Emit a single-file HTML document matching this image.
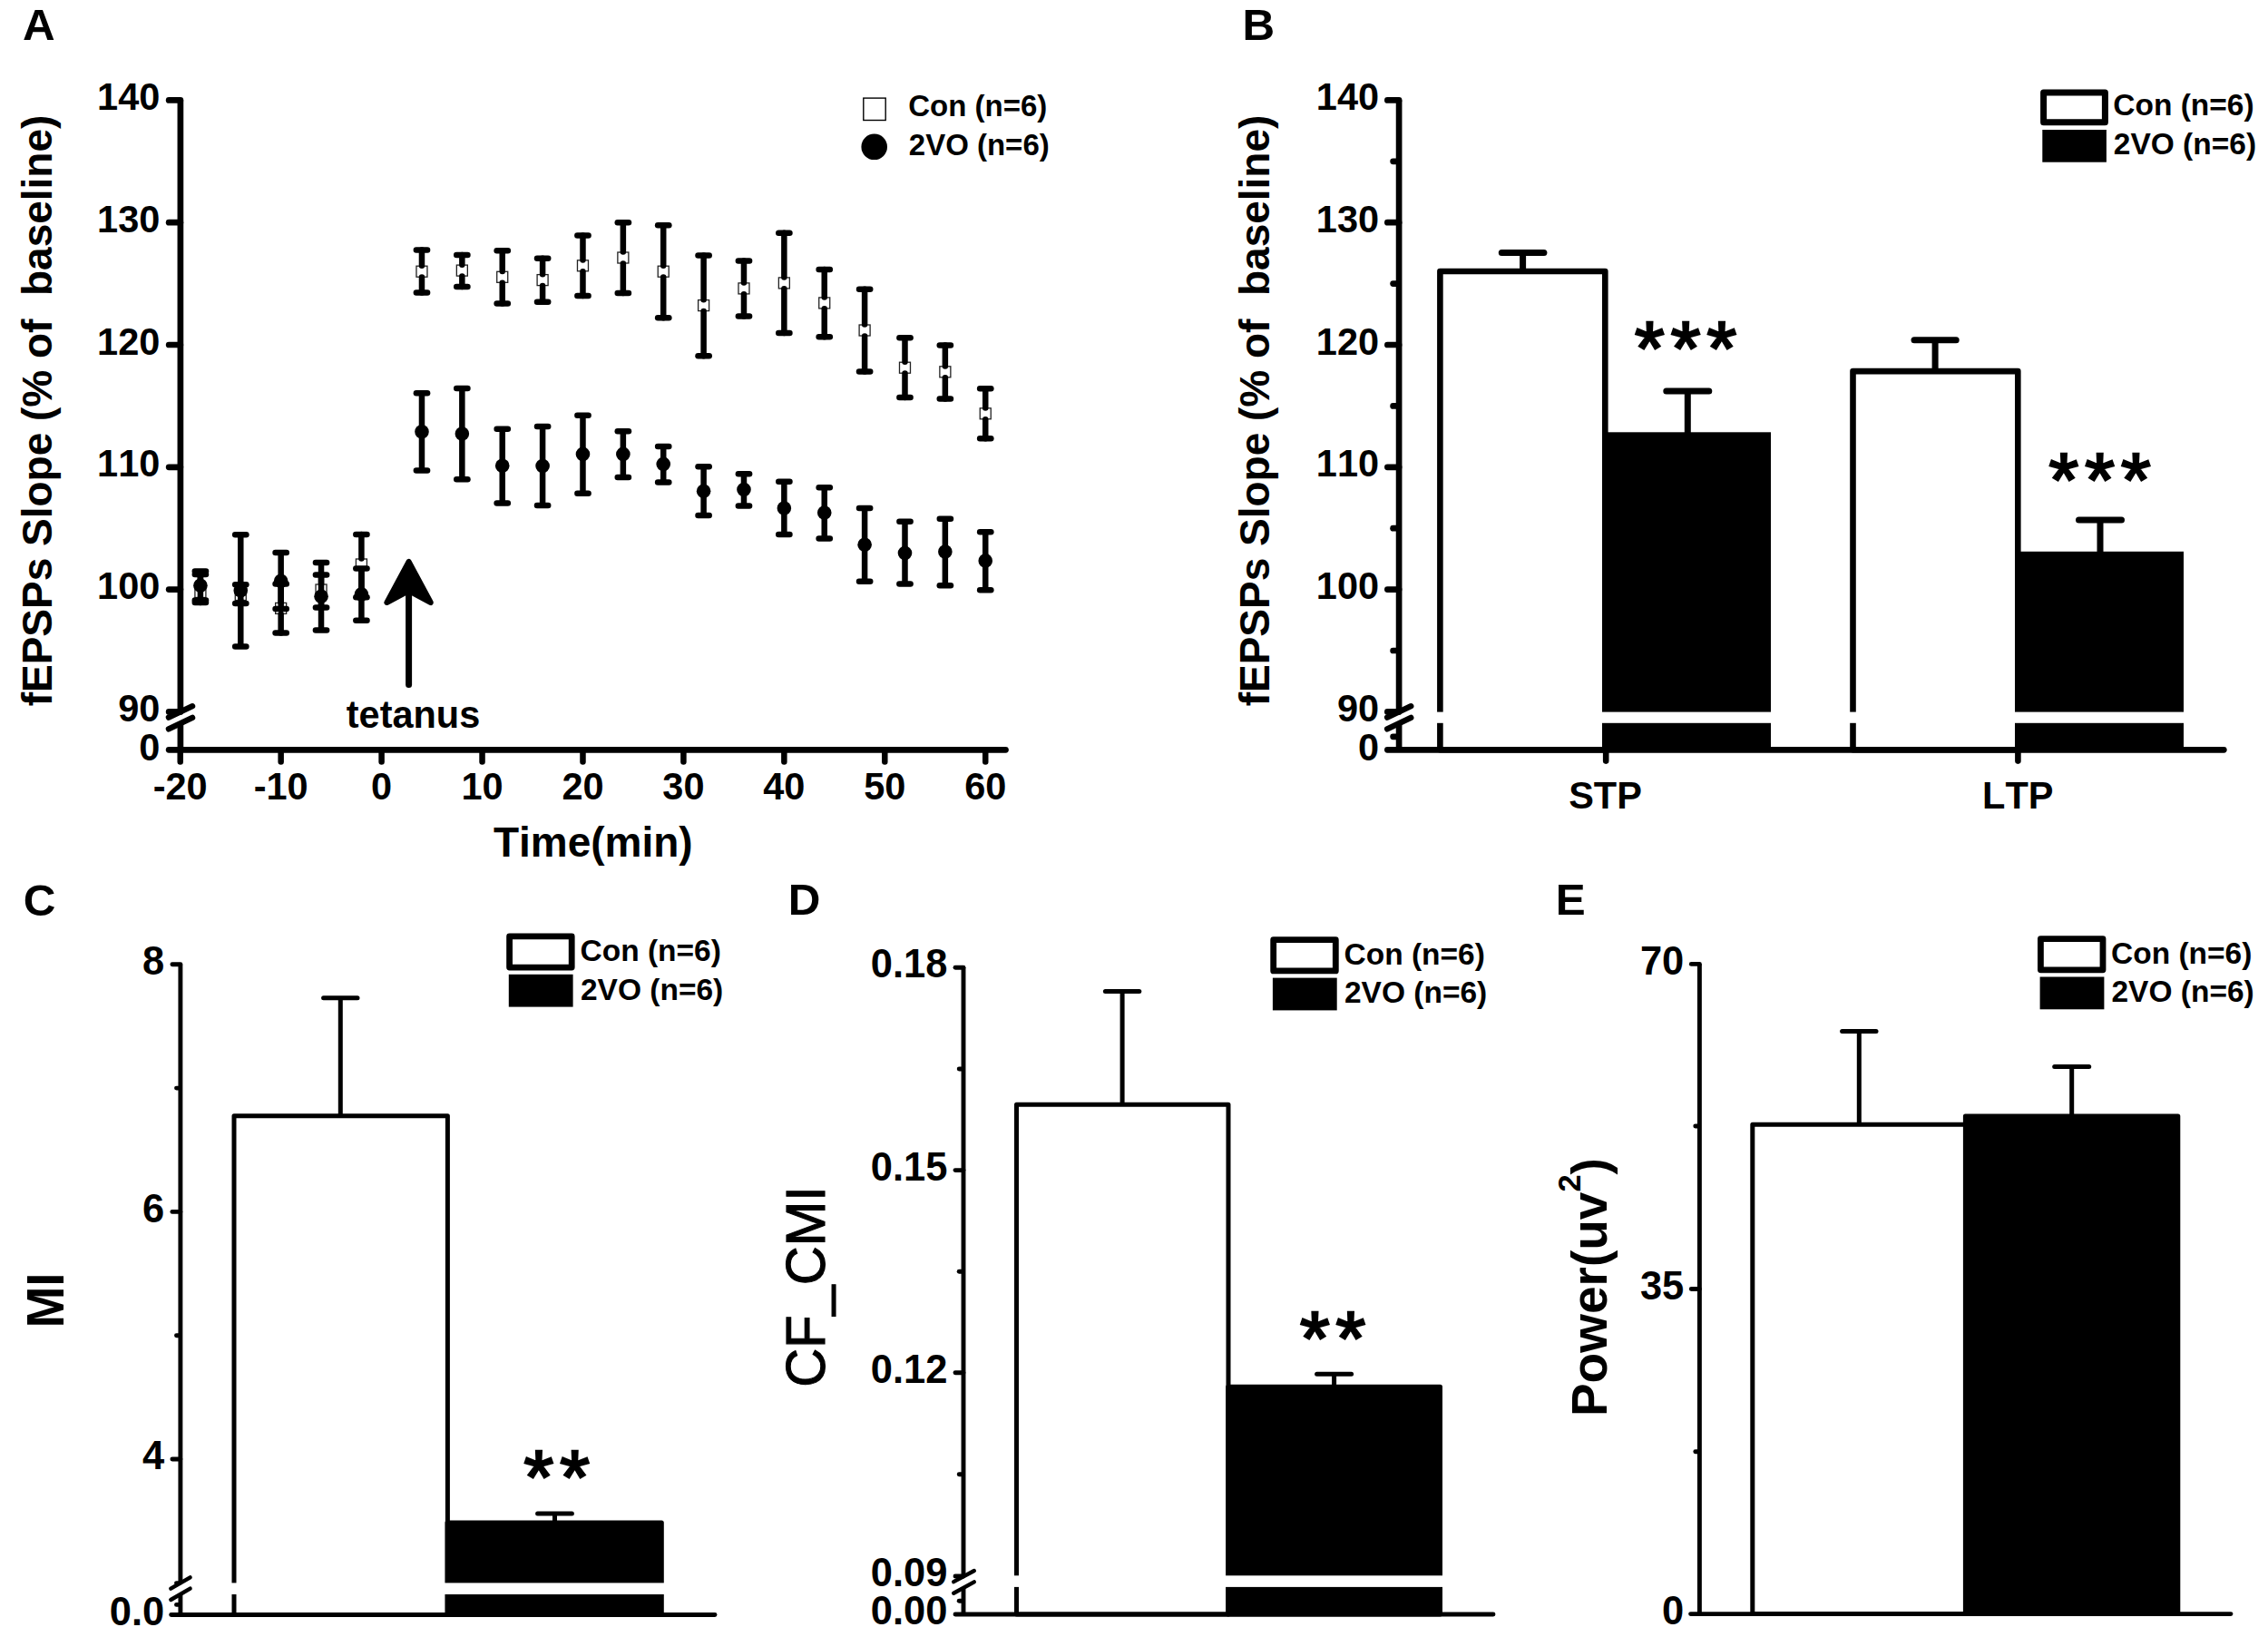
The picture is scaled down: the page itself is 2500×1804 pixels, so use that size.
<!DOCTYPE html>
<html lang="en">
<head>
<meta charset="utf-8">
<title>Figure: LTP, MI, CF_CMI and power in Con vs 2VO</title>
<style>
html,body{margin:0;padding:0;background:#fff;}
body{width:2500px;height:1804px;overflow:hidden;}
svg{display:block;}
text{font-family:"Liberation Sans",Arial,Helvetica,sans-serif;font-kerning:none;}
</style>
</head>
<body>
<svg width="2500" height="1804" viewBox="0 0 2500 1804" font-family="'Liberation Sans', Arial, Helvetica, sans-serif" fill="#000">
<rect width="2500" height="1804" fill="#fff"/>
<g id="panelA">
<text transform="translate(25 44) scale(1.05 1.04)" font-size="47" font-weight="bold" text-anchor="start">A</text>
<line x1="198.9" y1="110.5" x2="198.9" y2="783.5" stroke="#000" stroke-width="6.7" stroke-linecap="butt"/>
<line x1="198.9" y1="797" x2="198.9" y2="826.3" stroke="#000" stroke-width="6.7" stroke-linecap="butt"/>
<line x1="185.9" y1="790.7" x2="212.1" y2="778.2" stroke="#000" stroke-width="6.3" stroke-linecap="round"/>
<line x1="185.9" y1="803.4" x2="212.1" y2="790.9" stroke="#000" stroke-width="6.3" stroke-linecap="round"/>
<line x1="186.15" y1="110.4" x2="198.9" y2="110.4" stroke="#000" stroke-width="6.7" stroke-linecap="round"/>
<line x1="186.15" y1="245.2" x2="198.9" y2="245.2" stroke="#000" stroke-width="6.7" stroke-linecap="round"/>
<line x1="186.15" y1="380" x2="198.9" y2="380" stroke="#000" stroke-width="6.7" stroke-linecap="round"/>
<line x1="186.15" y1="514.8" x2="198.9" y2="514.8" stroke="#000" stroke-width="6.7" stroke-linecap="round"/>
<line x1="186.15" y1="649.6" x2="198.9" y2="649.6" stroke="#000" stroke-width="6.7" stroke-linecap="round"/>
<line x1="186.15" y1="784.4" x2="198.9" y2="784.4" stroke="#000" stroke-width="6.7" stroke-linecap="round"/>
<line x1="186.15" y1="826.3" x2="1108.5" y2="826.3" stroke="#000" stroke-width="6.7" stroke-linecap="round"/>
<line x1="198.72" y1="826.3" x2="198.72" y2="839.6" stroke="#000" stroke-width="6.5" stroke-linecap="round"/>
<text transform="translate(198.72 881) scale(1 1.04)" font-size="41.5" font-weight="bold" text-anchor="middle">-20</text>
<line x1="309.66" y1="826.3" x2="309.66" y2="839.6" stroke="#000" stroke-width="6.5" stroke-linecap="round"/>
<text transform="translate(309.66 881) scale(1 1.04)" font-size="41.5" font-weight="bold" text-anchor="middle">-10</text>
<line x1="420.6" y1="826.3" x2="420.6" y2="839.6" stroke="#000" stroke-width="6.5" stroke-linecap="round"/>
<text transform="translate(420.6 881) scale(1 1.04)" font-size="41.5" font-weight="bold" text-anchor="middle">0</text>
<line x1="531.54" y1="826.3" x2="531.54" y2="839.6" stroke="#000" stroke-width="6.5" stroke-linecap="round"/>
<text transform="translate(531.54 881) scale(1 1.04)" font-size="41.5" font-weight="bold" text-anchor="middle">10</text>
<line x1="642.48" y1="826.3" x2="642.48" y2="839.6" stroke="#000" stroke-width="6.5" stroke-linecap="round"/>
<text transform="translate(642.48 881) scale(1 1.04)" font-size="41.5" font-weight="bold" text-anchor="middle">20</text>
<line x1="753.42" y1="826.3" x2="753.42" y2="839.6" stroke="#000" stroke-width="6.5" stroke-linecap="round"/>
<text transform="translate(753.42 881) scale(1 1.04)" font-size="41.5" font-weight="bold" text-anchor="middle">30</text>
<line x1="864.36" y1="826.3" x2="864.36" y2="839.6" stroke="#000" stroke-width="6.5" stroke-linecap="round"/>
<text transform="translate(864.36 881) scale(1 1.04)" font-size="41.5" font-weight="bold" text-anchor="middle">40</text>
<line x1="975.3" y1="826.3" x2="975.3" y2="839.6" stroke="#000" stroke-width="6.5" stroke-linecap="round"/>
<text transform="translate(975.3 881) scale(1 1.04)" font-size="41.5" font-weight="bold" text-anchor="middle">50</text>
<line x1="1086.24" y1="826.3" x2="1086.24" y2="839.6" stroke="#000" stroke-width="6.5" stroke-linecap="round"/>
<text transform="translate(1086.24 881) scale(1 1.04)" font-size="41.5" font-weight="bold" text-anchor="middle">60</text>
<text transform="translate(176.3 121) scale(1 1.04)" font-size="41.5" font-weight="bold" text-anchor="end">140</text>
<text transform="translate(176.3 255.8) scale(1 1.04)" font-size="41.5" font-weight="bold" text-anchor="end">130</text>
<text transform="translate(176.3 390.6) scale(1 1.04)" font-size="41.5" font-weight="bold" text-anchor="end">120</text>
<text transform="translate(176.3 525.4) scale(1 1.04)" font-size="41.5" font-weight="bold" text-anchor="end">110</text>
<text transform="translate(176.3 660.2) scale(1 1.04)" font-size="41.5" font-weight="bold" text-anchor="end">100</text>
<text transform="translate(176.3 795) scale(1 1.04)" font-size="41.5" font-weight="bold" text-anchor="end">90</text>
<text transform="translate(176.3 837.8) scale(1 1.04)" font-size="41.5" font-weight="bold" text-anchor="end">0</text>
<text transform="translate(653.8 943.8) scale(1 1.01)" font-size="46" font-weight="bold" text-anchor="middle">Time(min)</text>
<text transform="translate(56.5 452.5) rotate(-90) scale(1 1.01)" font-size="46" font-weight="bold" text-anchor="middle" style="white-space:pre">fEPSPs Slope (% of  baseline)</text>
<rect x="951.8" y="108.1" width="24.4" height="24.4" fill="#fff" stroke="#000" stroke-width="1.4"/>
<circle cx="963.7" cy="161.8" r="14.3"/>
<text transform="translate(1001.3 128.1) scale(1 1.01)" font-size="33" font-weight="bold" text-anchor="start">Con (n=6)</text>
<text transform="translate(1001.8 170.7) scale(1 1.01)" font-size="33" font-weight="bold" text-anchor="start">2VO (n=6)</text>
<g id="sq">
<rect x="214.91" y="646.5" width="12" height="12" fill="#fff" stroke="#222" stroke-width="1.3"/>
<line x1="214.81" y1="633" x2="227.01" y2="633" stroke="#000" stroke-width="6.5" stroke-linecap="round"/>
<line x1="214.81" y1="664" x2="227.01" y2="664" stroke="#000" stroke-width="6.5" stroke-linecap="round"/>
<line x1="220.91" y1="633" x2="220.91" y2="646.1" stroke="#000" stroke-width="6.5" stroke-linecap="round"/>
<line x1="220.91" y1="658.9" x2="220.91" y2="664" stroke="#000" stroke-width="6.5" stroke-linecap="round"/>
<rect x="259.28" y="649.5" width="12" height="12" fill="#fff" stroke="#222" stroke-width="1.3"/>
<line x1="259.18" y1="644.3" x2="271.38" y2="644.3" stroke="#000" stroke-width="6.5" stroke-linecap="round"/>
<line x1="259.18" y1="665.1" x2="271.38" y2="665.1" stroke="#000" stroke-width="6.5" stroke-linecap="round"/>
<line x1="265.28" y1="644.3" x2="265.28" y2="649.1" stroke="#000" stroke-width="6.5" stroke-linecap="round"/>
<line x1="265.28" y1="661.9" x2="265.28" y2="665.1" stroke="#000" stroke-width="6.5" stroke-linecap="round"/>
<rect x="303.66" y="664.4" width="12" height="12" fill="#fff" stroke="#222" stroke-width="1.3"/>
<line x1="303.56" y1="643.4" x2="315.76" y2="643.4" stroke="#000" stroke-width="6.5" stroke-linecap="round"/>
<line x1="303.56" y1="697.4" x2="315.76" y2="697.4" stroke="#000" stroke-width="6.5" stroke-linecap="round"/>
<line x1="309.66" y1="643.4" x2="309.66" y2="664" stroke="#000" stroke-width="6.5" stroke-linecap="round"/>
<line x1="309.66" y1="676.8" x2="309.66" y2="697.4" stroke="#000" stroke-width="6.5" stroke-linecap="round"/>
<rect x="348.04" y="644" width="12" height="12" fill="#fff" stroke="#222" stroke-width="1.3"/>
<line x1="347.94" y1="633.6" x2="360.14" y2="633.6" stroke="#000" stroke-width="6.5" stroke-linecap="round"/>
<line x1="347.94" y1="669.5" x2="360.14" y2="669.5" stroke="#000" stroke-width="6.5" stroke-linecap="round"/>
<line x1="354.04" y1="633.6" x2="354.04" y2="643.6" stroke="#000" stroke-width="6.5" stroke-linecap="round"/>
<line x1="354.04" y1="656.4" x2="354.04" y2="669.5" stroke="#000" stroke-width="6.5" stroke-linecap="round"/>
<rect x="392.41" y="616" width="12" height="12" fill="#fff" stroke="#222" stroke-width="1.3"/>
<line x1="392.31" y1="588.9" x2="404.51" y2="588.9" stroke="#000" stroke-width="6.5" stroke-linecap="round"/>
<line x1="392.31" y1="658.3" x2="404.51" y2="658.3" stroke="#000" stroke-width="6.5" stroke-linecap="round"/>
<line x1="398.41" y1="588.9" x2="398.41" y2="615.6" stroke="#000" stroke-width="6.5" stroke-linecap="round"/>
<line x1="398.41" y1="628.4" x2="398.41" y2="658.3" stroke="#000" stroke-width="6.5" stroke-linecap="round"/>
<rect x="458.98" y="293.2" width="12" height="12" fill="#fff" stroke="#222" stroke-width="1.3"/>
<line x1="458.88" y1="275.6" x2="471.08" y2="275.6" stroke="#000" stroke-width="6.5" stroke-linecap="round"/>
<line x1="458.88" y1="322.5" x2="471.08" y2="322.5" stroke="#000" stroke-width="6.5" stroke-linecap="round"/>
<line x1="464.98" y1="275.6" x2="464.98" y2="292.8" stroke="#000" stroke-width="6.5" stroke-linecap="round"/>
<line x1="464.98" y1="305.6" x2="464.98" y2="322.5" stroke="#000" stroke-width="6.5" stroke-linecap="round"/>
<rect x="503.35" y="292.1" width="12" height="12" fill="#fff" stroke="#222" stroke-width="1.3"/>
<line x1="503.25" y1="280.9" x2="515.45" y2="280.9" stroke="#000" stroke-width="6.5" stroke-linecap="round"/>
<line x1="503.25" y1="315.9" x2="515.45" y2="315.9" stroke="#000" stroke-width="6.5" stroke-linecap="round"/>
<line x1="509.35" y1="280.9" x2="509.35" y2="291.7" stroke="#000" stroke-width="6.5" stroke-linecap="round"/>
<line x1="509.35" y1="304.5" x2="509.35" y2="315.9" stroke="#000" stroke-width="6.5" stroke-linecap="round"/>
<rect x="547.73" y="299.3" width="12" height="12" fill="#fff" stroke="#222" stroke-width="1.3"/>
<line x1="547.63" y1="276.3" x2="559.83" y2="276.3" stroke="#000" stroke-width="6.5" stroke-linecap="round"/>
<line x1="547.63" y1="334.6" x2="559.83" y2="334.6" stroke="#000" stroke-width="6.5" stroke-linecap="round"/>
<line x1="553.73" y1="276.3" x2="553.73" y2="298.9" stroke="#000" stroke-width="6.5" stroke-linecap="round"/>
<line x1="553.73" y1="311.7" x2="553.73" y2="334.6" stroke="#000" stroke-width="6.5" stroke-linecap="round"/>
<rect x="592.1" y="302.6" width="12" height="12" fill="#fff" stroke="#222" stroke-width="1.3"/>
<line x1="592" y1="284.7" x2="604.2" y2="284.7" stroke="#000" stroke-width="6.5" stroke-linecap="round"/>
<line x1="592" y1="332.8" x2="604.2" y2="332.8" stroke="#000" stroke-width="6.5" stroke-linecap="round"/>
<line x1="598.1" y1="284.7" x2="598.1" y2="302.2" stroke="#000" stroke-width="6.5" stroke-linecap="round"/>
<line x1="598.1" y1="315" x2="598.1" y2="332.8" stroke="#000" stroke-width="6.5" stroke-linecap="round"/>
<rect x="636.48" y="286.8" width="12" height="12" fill="#fff" stroke="#222" stroke-width="1.3"/>
<line x1="636.38" y1="259.6" x2="648.58" y2="259.6" stroke="#000" stroke-width="6.5" stroke-linecap="round"/>
<line x1="636.38" y1="326" x2="648.58" y2="326" stroke="#000" stroke-width="6.5" stroke-linecap="round"/>
<line x1="642.48" y1="259.6" x2="642.48" y2="286.4" stroke="#000" stroke-width="6.5" stroke-linecap="round"/>
<line x1="642.48" y1="299.2" x2="642.48" y2="326" stroke="#000" stroke-width="6.5" stroke-linecap="round"/>
<rect x="680.86" y="278" width="12" height="12" fill="#fff" stroke="#222" stroke-width="1.3"/>
<line x1="680.76" y1="245.3" x2="692.96" y2="245.3" stroke="#000" stroke-width="6.5" stroke-linecap="round"/>
<line x1="680.76" y1="322.9" x2="692.96" y2="322.9" stroke="#000" stroke-width="6.5" stroke-linecap="round"/>
<line x1="686.86" y1="245.3" x2="686.86" y2="277.6" stroke="#000" stroke-width="6.5" stroke-linecap="round"/>
<line x1="686.86" y1="290.4" x2="686.86" y2="322.9" stroke="#000" stroke-width="6.5" stroke-linecap="round"/>
<rect x="725.23" y="293.2" width="12" height="12" fill="#fff" stroke="#222" stroke-width="1.3"/>
<line x1="725.13" y1="248.2" x2="737.33" y2="248.2" stroke="#000" stroke-width="6.5" stroke-linecap="round"/>
<line x1="725.13" y1="350.2" x2="737.33" y2="350.2" stroke="#000" stroke-width="6.5" stroke-linecap="round"/>
<line x1="731.23" y1="248.2" x2="731.23" y2="292.8" stroke="#000" stroke-width="6.5" stroke-linecap="round"/>
<line x1="731.23" y1="305.6" x2="731.23" y2="350.2" stroke="#000" stroke-width="6.5" stroke-linecap="round"/>
<rect x="769.61" y="330.6" width="12" height="12" fill="#fff" stroke="#222" stroke-width="1.3"/>
<line x1="769.51" y1="281.4" x2="781.71" y2="281.4" stroke="#000" stroke-width="6.5" stroke-linecap="round"/>
<line x1="769.51" y1="392.2" x2="781.71" y2="392.2" stroke="#000" stroke-width="6.5" stroke-linecap="round"/>
<line x1="775.61" y1="281.4" x2="775.61" y2="330.2" stroke="#000" stroke-width="6.5" stroke-linecap="round"/>
<line x1="775.61" y1="343" x2="775.61" y2="392.2" stroke="#000" stroke-width="6.5" stroke-linecap="round"/>
<rect x="813.98" y="311.9" width="12" height="12" fill="#fff" stroke="#222" stroke-width="1.3"/>
<line x1="813.88" y1="287.5" x2="826.08" y2="287.5" stroke="#000" stroke-width="6.5" stroke-linecap="round"/>
<line x1="813.88" y1="348.4" x2="826.08" y2="348.4" stroke="#000" stroke-width="6.5" stroke-linecap="round"/>
<line x1="819.98" y1="287.5" x2="819.98" y2="311.5" stroke="#000" stroke-width="6.5" stroke-linecap="round"/>
<line x1="819.98" y1="324.3" x2="819.98" y2="348.4" stroke="#000" stroke-width="6.5" stroke-linecap="round"/>
<rect x="858.36" y="305.9" width="12" height="12" fill="#fff" stroke="#222" stroke-width="1.3"/>
<line x1="858.26" y1="256.7" x2="870.46" y2="256.7" stroke="#000" stroke-width="6.5" stroke-linecap="round"/>
<line x1="858.26" y1="366.9" x2="870.46" y2="366.9" stroke="#000" stroke-width="6.5" stroke-linecap="round"/>
<line x1="864.36" y1="256.7" x2="864.36" y2="305.5" stroke="#000" stroke-width="6.5" stroke-linecap="round"/>
<line x1="864.36" y1="318.3" x2="864.36" y2="366.9" stroke="#000" stroke-width="6.5" stroke-linecap="round"/>
<rect x="902.74" y="327.9" width="12" height="12" fill="#fff" stroke="#222" stroke-width="1.3"/>
<line x1="902.64" y1="297" x2="914.84" y2="297" stroke="#000" stroke-width="6.5" stroke-linecap="round"/>
<line x1="902.64" y1="371.3" x2="914.84" y2="371.3" stroke="#000" stroke-width="6.5" stroke-linecap="round"/>
<line x1="908.74" y1="297" x2="908.74" y2="327.5" stroke="#000" stroke-width="6.5" stroke-linecap="round"/>
<line x1="908.74" y1="340.3" x2="908.74" y2="371.3" stroke="#000" stroke-width="6.5" stroke-linecap="round"/>
<rect x="947.11" y="358" width="12" height="12" fill="#fff" stroke="#222" stroke-width="1.3"/>
<line x1="947.01" y1="318.7" x2="959.21" y2="318.7" stroke="#000" stroke-width="6.5" stroke-linecap="round"/>
<line x1="947.01" y1="409.4" x2="959.21" y2="409.4" stroke="#000" stroke-width="6.5" stroke-linecap="round"/>
<line x1="953.11" y1="318.7" x2="953.11" y2="357.6" stroke="#000" stroke-width="6.5" stroke-linecap="round"/>
<line x1="953.11" y1="370.4" x2="953.11" y2="409.4" stroke="#000" stroke-width="6.5" stroke-linecap="round"/>
<rect x="991.49" y="399.2" width="12" height="12" fill="#fff" stroke="#222" stroke-width="1.3"/>
<line x1="991.39" y1="372.2" x2="1003.59" y2="372.2" stroke="#000" stroke-width="6.5" stroke-linecap="round"/>
<line x1="991.39" y1="437.9" x2="1003.59" y2="437.9" stroke="#000" stroke-width="6.5" stroke-linecap="round"/>
<line x1="997.49" y1="372.2" x2="997.49" y2="398.8" stroke="#000" stroke-width="6.5" stroke-linecap="round"/>
<line x1="997.49" y1="411.6" x2="997.49" y2="437.9" stroke="#000" stroke-width="6.5" stroke-linecap="round"/>
<rect x="1035.86" y="403.8" width="12" height="12" fill="#fff" stroke="#222" stroke-width="1.3"/>
<line x1="1035.76" y1="380.5" x2="1047.96" y2="380.5" stroke="#000" stroke-width="6.5" stroke-linecap="round"/>
<line x1="1035.76" y1="439.5" x2="1047.96" y2="439.5" stroke="#000" stroke-width="6.5" stroke-linecap="round"/>
<line x1="1041.86" y1="380.5" x2="1041.86" y2="403.4" stroke="#000" stroke-width="6.5" stroke-linecap="round"/>
<line x1="1041.86" y1="416.2" x2="1041.86" y2="439.5" stroke="#000" stroke-width="6.5" stroke-linecap="round"/>
<rect x="1080.24" y="449.8" width="12" height="12" fill="#fff" stroke="#222" stroke-width="1.3"/>
<line x1="1080.14" y1="428.3" x2="1092.34" y2="428.3" stroke="#000" stroke-width="6.5" stroke-linecap="round"/>
<line x1="1080.14" y1="483.2" x2="1092.34" y2="483.2" stroke="#000" stroke-width="6.5" stroke-linecap="round"/>
<line x1="1086.24" y1="428.3" x2="1086.24" y2="449.4" stroke="#000" stroke-width="6.5" stroke-linecap="round"/>
<line x1="1086.24" y1="462.2" x2="1086.24" y2="483.2" stroke="#000" stroke-width="6.5" stroke-linecap="round"/>
</g><g id="ci">
<line x1="214.81" y1="629.5" x2="227.01" y2="629.5" stroke="#000" stroke-width="6.5" stroke-linecap="round"/>
<line x1="214.81" y1="661.5" x2="227.01" y2="661.5" stroke="#000" stroke-width="6.5" stroke-linecap="round"/>
<line x1="220.91" y1="629.5" x2="220.91" y2="661.5" stroke="#000" stroke-width="6.5" stroke-linecap="butt"/>
<circle cx="220.91" cy="645.3" r="7.8"/>
<line x1="259.18" y1="589.2" x2="271.38" y2="589.2" stroke="#000" stroke-width="6.5" stroke-linecap="round"/>
<line x1="259.18" y1="712.5" x2="271.38" y2="712.5" stroke="#000" stroke-width="6.5" stroke-linecap="round"/>
<line x1="265.28" y1="589.2" x2="265.28" y2="712.5" stroke="#000" stroke-width="6.5" stroke-linecap="butt"/>
<circle cx="265.28" cy="650.8" r="7.8"/>
<line x1="303.56" y1="609.1" x2="315.76" y2="609.1" stroke="#000" stroke-width="6.5" stroke-linecap="round"/>
<line x1="303.56" y1="670.9" x2="315.76" y2="670.9" stroke="#000" stroke-width="6.5" stroke-linecap="round"/>
<line x1="309.66" y1="609.1" x2="309.66" y2="670.9" stroke="#000" stroke-width="6.5" stroke-linecap="butt"/>
<circle cx="309.66" cy="640.2" r="7.8"/>
<line x1="347.94" y1="620" x2="360.14" y2="620" stroke="#000" stroke-width="6.5" stroke-linecap="round"/>
<line x1="347.94" y1="694.4" x2="360.14" y2="694.4" stroke="#000" stroke-width="6.5" stroke-linecap="round"/>
<line x1="354.04" y1="620" x2="354.04" y2="694.4" stroke="#000" stroke-width="6.5" stroke-linecap="butt"/>
<circle cx="354.04" cy="657.2" r="7.8"/>
<line x1="392.31" y1="626.4" x2="404.51" y2="626.4" stroke="#000" stroke-width="6.5" stroke-linecap="round"/>
<line x1="392.31" y1="683.7" x2="404.51" y2="683.7" stroke="#000" stroke-width="6.5" stroke-linecap="round"/>
<line x1="398.41" y1="626.4" x2="398.41" y2="683.7" stroke="#000" stroke-width="6.5" stroke-linecap="butt"/>
<circle cx="398.41" cy="654.9" r="7.8"/>
<line x1="458.88" y1="433.3" x2="471.08" y2="433.3" stroke="#000" stroke-width="6.5" stroke-linecap="round"/>
<line x1="458.88" y1="518.4" x2="471.08" y2="518.4" stroke="#000" stroke-width="6.5" stroke-linecap="round"/>
<line x1="464.98" y1="433.3" x2="464.98" y2="518.4" stroke="#000" stroke-width="6.5" stroke-linecap="butt"/>
<circle cx="464.98" cy="475.8" r="7.8"/>
<line x1="503.25" y1="428" x2="515.45" y2="428" stroke="#000" stroke-width="6.5" stroke-linecap="round"/>
<line x1="503.25" y1="528.3" x2="515.45" y2="528.3" stroke="#000" stroke-width="6.5" stroke-linecap="round"/>
<line x1="509.35" y1="428" x2="509.35" y2="528.3" stroke="#000" stroke-width="6.5" stroke-linecap="butt"/>
<circle cx="509.35" cy="478" r="7.8"/>
<line x1="547.63" y1="472.7" x2="559.83" y2="472.7" stroke="#000" stroke-width="6.5" stroke-linecap="round"/>
<line x1="547.63" y1="554.5" x2="559.83" y2="554.5" stroke="#000" stroke-width="6.5" stroke-linecap="round"/>
<line x1="553.73" y1="472.7" x2="553.73" y2="554.5" stroke="#000" stroke-width="6.5" stroke-linecap="butt"/>
<circle cx="553.73" cy="513.2" r="7.8"/>
<line x1="592" y1="470" x2="604.2" y2="470" stroke="#000" stroke-width="6.5" stroke-linecap="round"/>
<line x1="592" y1="557.1" x2="604.2" y2="557.1" stroke="#000" stroke-width="6.5" stroke-linecap="round"/>
<line x1="598.1" y1="470" x2="598.1" y2="557.1" stroke="#000" stroke-width="6.5" stroke-linecap="butt"/>
<circle cx="598.1" cy="513.6" r="7.8"/>
<line x1="636.38" y1="457.7" x2="648.58" y2="457.7" stroke="#000" stroke-width="6.5" stroke-linecap="round"/>
<line x1="636.38" y1="543.7" x2="648.58" y2="543.7" stroke="#000" stroke-width="6.5" stroke-linecap="round"/>
<line x1="642.48" y1="457.7" x2="642.48" y2="543.7" stroke="#000" stroke-width="6.5" stroke-linecap="butt"/>
<circle cx="642.48" cy="500.4" r="7.8"/>
<line x1="680.76" y1="475.3" x2="692.96" y2="475.3" stroke="#000" stroke-width="6.5" stroke-linecap="round"/>
<line x1="680.76" y1="525.9" x2="692.96" y2="525.9" stroke="#000" stroke-width="6.5" stroke-linecap="round"/>
<line x1="686.86" y1="475.3" x2="686.86" y2="525.9" stroke="#000" stroke-width="6.5" stroke-linecap="butt"/>
<circle cx="686.86" cy="500.4" r="7.8"/>
<line x1="725.13" y1="492" x2="737.33" y2="492" stroke="#000" stroke-width="6.5" stroke-linecap="round"/>
<line x1="725.13" y1="531.4" x2="737.33" y2="531.4" stroke="#000" stroke-width="6.5" stroke-linecap="round"/>
<line x1="731.23" y1="492" x2="731.23" y2="531.4" stroke="#000" stroke-width="6.5" stroke-linecap="butt"/>
<circle cx="731.23" cy="511.4" r="7.8"/>
<line x1="769.51" y1="514.3" x2="781.71" y2="514.3" stroke="#000" stroke-width="6.5" stroke-linecap="round"/>
<line x1="769.51" y1="568" x2="781.71" y2="568" stroke="#000" stroke-width="6.5" stroke-linecap="round"/>
<line x1="775.61" y1="514.3" x2="775.61" y2="568" stroke="#000" stroke-width="6.5" stroke-linecap="butt"/>
<circle cx="775.61" cy="541.2" r="7.8"/>
<line x1="813.88" y1="522.2" x2="826.08" y2="522.2" stroke="#000" stroke-width="6.5" stroke-linecap="round"/>
<line x1="813.88" y1="557.4" x2="826.08" y2="557.4" stroke="#000" stroke-width="6.5" stroke-linecap="round"/>
<line x1="819.98" y1="522.2" x2="819.98" y2="557.4" stroke="#000" stroke-width="6.5" stroke-linecap="butt"/>
<circle cx="819.98" cy="539.6" r="7.8"/>
<line x1="858.26" y1="530.8" x2="870.46" y2="530.8" stroke="#000" stroke-width="6.5" stroke-linecap="round"/>
<line x1="858.26" y1="589.1" x2="870.46" y2="589.1" stroke="#000" stroke-width="6.5" stroke-linecap="round"/>
<line x1="864.36" y1="530.8" x2="864.36" y2="589.1" stroke="#000" stroke-width="6.5" stroke-linecap="butt"/>
<circle cx="864.36" cy="560.1" r="7.8"/>
<line x1="902.64" y1="537.2" x2="914.84" y2="537.2" stroke="#000" stroke-width="6.5" stroke-linecap="round"/>
<line x1="902.64" y1="593.5" x2="914.84" y2="593.5" stroke="#000" stroke-width="6.5" stroke-linecap="round"/>
<line x1="908.74" y1="537.2" x2="908.74" y2="593.5" stroke="#000" stroke-width="6.5" stroke-linecap="butt"/>
<circle cx="908.74" cy="565.1" r="7.8"/>
<line x1="947.01" y1="560.1" x2="959.21" y2="560.1" stroke="#000" stroke-width="6.5" stroke-linecap="round"/>
<line x1="947.01" y1="640.8" x2="959.21" y2="640.8" stroke="#000" stroke-width="6.5" stroke-linecap="round"/>
<line x1="953.11" y1="560.1" x2="953.11" y2="640.8" stroke="#000" stroke-width="6.5" stroke-linecap="butt"/>
<circle cx="953.11" cy="600.3" r="7.8"/>
<line x1="991.39" y1="574.8" x2="1003.59" y2="574.8" stroke="#000" stroke-width="6.5" stroke-linecap="round"/>
<line x1="991.39" y1="643.4" x2="1003.59" y2="643.4" stroke="#000" stroke-width="6.5" stroke-linecap="round"/>
<line x1="997.49" y1="574.8" x2="997.49" y2="643.4" stroke="#000" stroke-width="6.5" stroke-linecap="butt"/>
<circle cx="997.49" cy="609.5" r="7.8"/>
<line x1="1035.76" y1="571.7" x2="1047.96" y2="571.7" stroke="#000" stroke-width="6.5" stroke-linecap="round"/>
<line x1="1035.76" y1="645.2" x2="1047.96" y2="645.2" stroke="#000" stroke-width="6.5" stroke-linecap="round"/>
<line x1="1041.86" y1="571.7" x2="1041.86" y2="645.2" stroke="#000" stroke-width="6.5" stroke-linecap="butt"/>
<circle cx="1041.86" cy="608" r="7.8"/>
<line x1="1080.14" y1="586.2" x2="1092.34" y2="586.2" stroke="#000" stroke-width="6.5" stroke-linecap="round"/>
<line x1="1080.14" y1="650.2" x2="1092.34" y2="650.2" stroke="#000" stroke-width="6.5" stroke-linecap="round"/>
<line x1="1086.24" y1="586.2" x2="1086.24" y2="650.2" stroke="#000" stroke-width="6.5" stroke-linecap="butt"/>
<circle cx="1086.24" cy="617.9" r="7.8"/>
</g>
<line x1="450.6" y1="650" x2="450.6" y2="754.5" stroke="#000" stroke-width="7" stroke-linecap="round"/>
<polygon points="450.6,619 426.4,664 450.6,651 474.8,664" stroke="#000" stroke-width="6" stroke-linejoin="round"/>
<text transform="translate(455.5 801.8) scale(1 1.01)" font-size="41.5" font-weight="bold" text-anchor="middle">tetanus</text>
</g>
<g id="panelB">
<text transform="translate(1369.5 44) scale(1.05 1.04)" font-size="47" font-weight="bold" text-anchor="start">B</text>
<rect x="1587.4" y="299" width="181.9" height="527.3" fill="#fff" stroke="#000" stroke-width="6.6" stroke-linejoin="round"/>
<rect x="1766" y="476.3" width="186" height="350" fill="#000"/>
<rect x="1581.4" y="784.6" width="376.6" height="12.2" fill="#fff"/>
<rect x="2042.5" y="409.1" width="181.8" height="417.2" fill="#fff" stroke="#000" stroke-width="6.6" stroke-linejoin="round"/>
<rect x="2221" y="607.8" width="186" height="218.5" fill="#000"/>
<rect x="2036.5" y="784.6" width="376.5" height="12.2" fill="#fff"/>
<line x1="1655.3" y1="278.5" x2="1701.9" y2="278.5" stroke="#000" stroke-width="7" stroke-linecap="round"/>
<line x1="1678.6" y1="278.5" x2="1678.6" y2="299" stroke="#000" stroke-width="7" stroke-linecap="butt"/>
<line x1="1836.8" y1="430.9" x2="1883.8" y2="430.9" stroke="#000" stroke-width="7" stroke-linecap="round"/>
<line x1="1860.3" y1="430.9" x2="1860.3" y2="478" stroke="#000" stroke-width="7" stroke-linecap="butt"/>
<line x1="2110" y1="374.7" x2="2156.2" y2="374.7" stroke="#000" stroke-width="7" stroke-linecap="round"/>
<line x1="2133.1" y1="374.7" x2="2133.1" y2="409.1" stroke="#000" stroke-width="7" stroke-linecap="butt"/>
<line x1="2291.5" y1="572.9" x2="2338.5" y2="572.9" stroke="#000" stroke-width="7" stroke-linecap="round"/>
<line x1="2315" y1="572.9" x2="2315" y2="609" stroke="#000" stroke-width="7" stroke-linecap="butt"/>
<line x1="1542.1" y1="110.5" x2="1542.1" y2="783.5" stroke="#000" stroke-width="6.7" stroke-linecap="butt"/>
<line x1="1542.1" y1="797" x2="1542.1" y2="826.3" stroke="#000" stroke-width="6.7" stroke-linecap="butt"/>
<line x1="1529.1" y1="790.7" x2="1555.3" y2="778.2" stroke="#000" stroke-width="6.3" stroke-linecap="round"/>
<line x1="1529.1" y1="803.4" x2="1555.3" y2="790.9" stroke="#000" stroke-width="6.3" stroke-linecap="round"/>
<line x1="1529.35" y1="110.4" x2="1542.1" y2="110.4" stroke="#000" stroke-width="6.7" stroke-linecap="round"/>
<line x1="1529.35" y1="245.2" x2="1542.1" y2="245.2" stroke="#000" stroke-width="6.7" stroke-linecap="round"/>
<line x1="1529.35" y1="380" x2="1542.1" y2="380" stroke="#000" stroke-width="6.7" stroke-linecap="round"/>
<line x1="1529.35" y1="514.8" x2="1542.1" y2="514.8" stroke="#000" stroke-width="6.7" stroke-linecap="round"/>
<line x1="1529.35" y1="649.6" x2="1542.1" y2="649.6" stroke="#000" stroke-width="6.7" stroke-linecap="round"/>
<line x1="1529.35" y1="784.4" x2="1542.1" y2="784.4" stroke="#000" stroke-width="6.7" stroke-linecap="round"/>
<line x1="1535.6" y1="177.8" x2="1541.1" y2="177.8" stroke="#000" stroke-width="6.7" stroke-linecap="round"/>
<line x1="1535.6" y1="312.6" x2="1541.1" y2="312.6" stroke="#000" stroke-width="6.7" stroke-linecap="round"/>
<line x1="1535.6" y1="447.4" x2="1541.1" y2="447.4" stroke="#000" stroke-width="6.7" stroke-linecap="round"/>
<line x1="1535.6" y1="582.2" x2="1541.1" y2="582.2" stroke="#000" stroke-width="6.7" stroke-linecap="round"/>
<line x1="1535.6" y1="717" x2="1541.1" y2="717" stroke="#000" stroke-width="6.7" stroke-linecap="round"/>
<line x1="1535.6" y1="811.8" x2="1541.1" y2="811.8" stroke="#000" stroke-width="6.7" stroke-linecap="round"/>
<line x1="1529.35" y1="826.3" x2="2451.3" y2="826.3" stroke="#000" stroke-width="6.7" stroke-linecap="round"/>
<line x1="1770.2" y1="826.4" x2="1770.2" y2="838.6" stroke="#000" stroke-width="6.6" stroke-linecap="round"/>
<line x1="2224.4" y1="826.4" x2="2224.4" y2="838.6" stroke="#000" stroke-width="6.6" stroke-linecap="round"/>
<text transform="translate(1520.1 121) scale(1 1.04)" font-size="41.5" font-weight="bold" text-anchor="end">140</text>
<text transform="translate(1520.1 255.8) scale(1 1.04)" font-size="41.5" font-weight="bold" text-anchor="end">130</text>
<text transform="translate(1520.1 390.6) scale(1 1.04)" font-size="41.5" font-weight="bold" text-anchor="end">120</text>
<text transform="translate(1520.1 525.4) scale(1 1.04)" font-size="41.5" font-weight="bold" text-anchor="end">110</text>
<text transform="translate(1520.1 660.2) scale(1 1.04)" font-size="41.5" font-weight="bold" text-anchor="end">100</text>
<text transform="translate(1520.1 795) scale(1 1.04)" font-size="41.5" font-weight="bold" text-anchor="end">90</text>
<text transform="translate(1520.1 837.8) scale(1 1.04)" font-size="41.5" font-weight="bold" text-anchor="end">0</text>
<text transform="translate(1399.3 452.5) rotate(-90) scale(1 1.01)" font-size="46" font-weight="bold" text-anchor="middle" style="white-space:pre">fEPSPs Slope (% of  baseline)</text>
<text transform="translate(1769.5 891) scale(1 1.04)" font-size="41.5" font-weight="bold" text-anchor="middle">STP</text>
<text transform="translate(2224.3 891.3) scale(1 1.04)" font-size="41.5" font-weight="bold" text-anchor="middle">LTP</text>
<text transform="translate(1802 413)" font-size="84" font-weight="normal" text-anchor="start" stroke="#000" stroke-width="2.5" letter-spacing="7.0">***</text>
<text transform="translate(2258.5 558)" font-size="84" font-weight="normal" text-anchor="start" stroke="#000" stroke-width="2.5" letter-spacing="7.0">***</text>
<rect x="2252.6" y="102" width="67.8" height="32.8" fill="#fff" stroke="#000" stroke-width="7" stroke-linejoin="round"/>
<rect x="2251.3" y="143" width="70.6" height="35.7" fill="#000"/>
<text transform="translate(2329.3 127.3) scale(1 1.01)" font-size="33.5" font-weight="bold" text-anchor="start">Con (n=6)</text>
<text transform="translate(2329.8 170) scale(1 1.01)" font-size="33.5" font-weight="bold" text-anchor="start">2VO (n=6)</text>
</g>
<g id="panelC">
<text transform="translate(25.8 1008.8) scale(1.05 1.04)" font-size="47" font-weight="bold" text-anchor="start">C</text>
<rect x="258" y="1229.7" width="235.4" height="549.8" fill="#fff" stroke="#000" stroke-width="5" stroke-linejoin="round"/>
<rect x="493" y="1678.1" width="236.3" height="101.4" fill="#000" stroke="#000" stroke-width="5" stroke-linejoin="round"/>
<rect x="250" y="1744.4" width="490" height="12.6" fill="#fff"/>
<line x1="356.6" y1="1099.7" x2="394" y2="1099.7" stroke="#000" stroke-width="5" stroke-linecap="round"/>
<line x1="375.3" y1="1099.7" x2="375.3" y2="1229.7" stroke="#000" stroke-width="5" stroke-linecap="butt"/>
<line x1="592.6" y1="1668.1" x2="630.4" y2="1668.1" stroke="#000" stroke-width="5" stroke-linecap="round"/>
<line x1="611.5" y1="1668.1" x2="611.5" y2="1678" stroke="#000" stroke-width="5" stroke-linecap="butt"/>
<line x1="198.9" y1="1062.8" x2="198.9" y2="1744" stroke="#000" stroke-width="4.9" stroke-linecap="butt"/>
<line x1="198.9" y1="1757.2" x2="198.9" y2="1779.5" stroke="#000" stroke-width="4.9" stroke-linecap="butt"/>
<line x1="188.3" y1="1750.6" x2="209.6" y2="1738.3" stroke="#000" stroke-width="4.4" stroke-linecap="round"/>
<line x1="188.3" y1="1763" x2="209.6" y2="1750.6" stroke="#000" stroke-width="4.4" stroke-linecap="round"/>
<line x1="189.9" y1="1062.8" x2="198.9" y2="1062.8" stroke="#000" stroke-width="4.9" stroke-linecap="round"/>
<line x1="189.9" y1="1335.4" x2="198.9" y2="1335.4" stroke="#000" stroke-width="4.9" stroke-linecap="round"/>
<line x1="189.9" y1="1608" x2="198.9" y2="1608" stroke="#000" stroke-width="4.9" stroke-linecap="round"/>
<line x1="194.5" y1="1199.1" x2="197.9" y2="1199.1" stroke="#000" stroke-width="4.9" stroke-linecap="round"/>
<line x1="194.5" y1="1471.7" x2="197.9" y2="1471.7" stroke="#000" stroke-width="4.9" stroke-linecap="round"/>
<line x1="194.5" y1="1744.6" x2="197.9" y2="1744.6" stroke="#000" stroke-width="4.9" stroke-linecap="round"/>
<line x1="194.5" y1="1768.4" x2="197.9" y2="1768.4" stroke="#000" stroke-width="4.9" stroke-linecap="round"/>
<line x1="188.7" y1="1779.5" x2="788" y2="1779.5" stroke="#000" stroke-width="4.9" stroke-linecap="round"/>
<text transform="translate(181.2 1074) scale(1 1.04)" font-size="43.5" font-weight="bold" text-anchor="end">8</text>
<text transform="translate(181.2 1346.6) scale(1 1.04)" font-size="43.5" font-weight="bold" text-anchor="end">6</text>
<text transform="translate(181.2 1619.2) scale(1 1.04)" font-size="43.5" font-weight="bold" text-anchor="end">4</text>
<text transform="translate(181.2 1790.7) scale(1 1.04)" font-size="43.5" font-weight="bold" text-anchor="end">0.0</text>
<text transform="translate(70.1 1433) rotate(-90) scale(1 1.04)" font-size="55" font-weight="bold" text-anchor="middle">MI</text>
<text transform="translate(577.6 1656.5)" font-size="84" font-weight="normal" text-anchor="start" stroke="#000" stroke-width="2.5" letter-spacing="7.0">**</text>
<rect x="561.6" y="1031.9" width="68.6" height="34.2" fill="#fff" stroke="#000" stroke-width="6.8" stroke-linejoin="round"/>
<rect x="560.8" y="1073.8" width="70.8" height="35.8" fill="#000"/>
<text transform="translate(639.5 1058.8) scale(1 1.01)" font-size="33.5" font-weight="bold" text-anchor="start">Con (n=6)</text>
<text transform="translate(640 1101.6) scale(1 1.01)" font-size="33.5" font-weight="bold" text-anchor="start">2VO (n=6)</text>
</g>
<g id="panelD">
<text transform="translate(868.8 1008.4) scale(1.05 1.04)" font-size="47" font-weight="bold" text-anchor="start">D</text>
<rect x="1120.5" y="1217.2" width="233.5" height="561.8" fill="#fff" stroke="#000" stroke-width="5" stroke-linejoin="round"/>
<rect x="1353.7" y="1528.2" width="233.8" height="250.8" fill="#000" stroke="#000" stroke-width="5" stroke-linejoin="round"/>
<rect x="1112" y="1736.3" width="490" height="12.6" fill="#fff"/>
<line x1="1218.4" y1="1092.4" x2="1255.8" y2="1092.4" stroke="#000" stroke-width="5" stroke-linecap="round"/>
<line x1="1237.1" y1="1092.4" x2="1237.1" y2="1217.2" stroke="#000" stroke-width="5" stroke-linecap="butt"/>
<line x1="1451.6" y1="1514.2" x2="1489.6" y2="1514.2" stroke="#000" stroke-width="5" stroke-linecap="round"/>
<line x1="1470.6" y1="1514.2" x2="1470.6" y2="1528" stroke="#000" stroke-width="5" stroke-linecap="butt"/>
<line x1="1062" y1="1066.2" x2="1062" y2="1736.5" stroke="#000" stroke-width="4.9" stroke-linecap="butt"/>
<line x1="1062" y1="1749.8" x2="1062" y2="1779" stroke="#000" stroke-width="4.9" stroke-linecap="butt"/>
<line x1="1051.2" y1="1743.1" x2="1073.8" y2="1731" stroke="#000" stroke-width="4.4" stroke-linecap="round"/>
<line x1="1051.2" y1="1755.8" x2="1073.8" y2="1743.4" stroke="#000" stroke-width="4.4" stroke-linecap="round"/>
<line x1="1053" y1="1066.2" x2="1062" y2="1066.2" stroke="#000" stroke-width="4.9" stroke-linecap="round"/>
<line x1="1053" y1="1289.6" x2="1062" y2="1289.6" stroke="#000" stroke-width="4.9" stroke-linecap="round"/>
<line x1="1053" y1="1512.8" x2="1062" y2="1512.8" stroke="#000" stroke-width="4.9" stroke-linecap="round"/>
<line x1="1053" y1="1737" x2="1062" y2="1737" stroke="#000" stroke-width="4.9" stroke-linecap="round"/>
<line x1="1057.2" y1="1178" x2="1061" y2="1178" stroke="#000" stroke-width="4.9" stroke-linecap="round"/>
<line x1="1057.2" y1="1401.3" x2="1061" y2="1401.3" stroke="#000" stroke-width="4.9" stroke-linecap="round"/>
<line x1="1057.2" y1="1624.8" x2="1061" y2="1624.8" stroke="#000" stroke-width="4.9" stroke-linecap="round"/>
<line x1="1057.2" y1="1764.3" x2="1061" y2="1764.3" stroke="#000" stroke-width="4.9" stroke-linecap="round"/>
<line x1="1053" y1="1779" x2="1646" y2="1779" stroke="#000" stroke-width="4.9" stroke-linecap="round"/>
<text transform="translate(1044.4 1077.4) scale(1 1.04)" font-size="43.5" font-weight="bold" text-anchor="end">0.18</text>
<text transform="translate(1044.4 1300.8) scale(1 1.04)" font-size="43.5" font-weight="bold" text-anchor="end">0.15</text>
<text transform="translate(1044.4 1524) scale(1 1.04)" font-size="43.5" font-weight="bold" text-anchor="end">0.12</text>
<text transform="translate(1044.4 1748.2) scale(1 1.04)" font-size="43.5" font-weight="bold" text-anchor="end">0.09</text>
<text transform="translate(1044.4 1790.2) scale(1 1.04)" font-size="43.5" font-weight="bold" text-anchor="end">0.00</text>
<text transform="translate(908.8 1418) rotate(-90) scale(1 1.04)" font-size="59.5" font-weight="normal" text-anchor="middle" stroke="#000" stroke-width="1.1">CF_CMI</text>
<text transform="translate(1432.9 1503.5)" font-size="84" font-weight="normal" text-anchor="start" stroke="#000" stroke-width="2.5" letter-spacing="7.0">**</text>
<rect x="1403.7" y="1035.7" width="68.6" height="34.2" fill="#fff" stroke="#000" stroke-width="6.8" stroke-linejoin="round"/>
<rect x="1402.9" y="1077.6" width="70.8" height="35.8" fill="#000"/>
<text transform="translate(1481.5 1062.9) scale(1 1.01)" font-size="33.5" font-weight="bold" text-anchor="start">Con (n=6)</text>
<text transform="translate(1482 1105.2) scale(1 1.01)" font-size="33.5" font-weight="bold" text-anchor="start">2VO (n=6)</text>
</g>
<g id="panelE">
<text transform="translate(1714.8 1008.4) scale(1.05 1.04)" font-size="47" font-weight="bold" text-anchor="start">E</text>
<rect x="1931.8" y="1239.2" width="235.2" height="539.4" fill="#fff" stroke="#000" stroke-width="5" stroke-linejoin="round"/>
<rect x="2166.4" y="1229.9" width="234.4" height="548.7" fill="#000" stroke="#000" stroke-width="5" stroke-linejoin="round"/>
<line x1="2030.6" y1="1136.4" x2="2068" y2="1136.4" stroke="#000" stroke-width="5" stroke-linecap="round"/>
<line x1="2049.3" y1="1136.4" x2="2049.3" y2="1239.2" stroke="#000" stroke-width="5" stroke-linecap="butt"/>
<line x1="2264.7" y1="1175.4" x2="2302.7" y2="1175.4" stroke="#000" stroke-width="5" stroke-linecap="round"/>
<line x1="2283.7" y1="1175.4" x2="2283.7" y2="1230" stroke="#000" stroke-width="5" stroke-linecap="butt"/>
<line x1="1873.4" y1="1062.4" x2="1873.4" y2="1778.6" stroke="#000" stroke-width="4.9" stroke-linecap="butt"/>
<line x1="1864.3" y1="1062.4" x2="1873.4" y2="1062.4" stroke="#000" stroke-width="4.9" stroke-linecap="round"/>
<line x1="1864.3" y1="1420.5" x2="1873.4" y2="1420.5" stroke="#000" stroke-width="4.9" stroke-linecap="round"/>
<line x1="1868.8" y1="1241" x2="1872.4" y2="1241" stroke="#000" stroke-width="4.9" stroke-linecap="round"/>
<line x1="1868.8" y1="1599.8" x2="1872.4" y2="1599.8" stroke="#000" stroke-width="4.9" stroke-linecap="round"/>
<line x1="1863.6" y1="1778.6" x2="2459" y2="1778.6" stroke="#000" stroke-width="4.9" stroke-linecap="round"/>
<text transform="translate(1856.3 1073.6) scale(1 1.04)" font-size="43.5" font-weight="bold" text-anchor="end">70</text>
<text transform="translate(1856.3 1431.7) scale(1 1.04)" font-size="43.5" font-weight="bold" text-anchor="end">35</text>
<text transform="translate(1856.3 1789.8) scale(1 1.04)" font-size="43.5" font-weight="bold" text-anchor="end">0</text>
<text transform="translate(1770.6 1418.6) rotate(-90) scale(1 1.015)" font-size="55" font-weight="bold" text-anchor="middle">Power(uv<tspan font-size="34.5" dy="-28">2</tspan><tspan dy="28">)</tspan></text>
<rect x="2249.4" y="1034.6" width="68.6" height="34.2" fill="#fff" stroke="#000" stroke-width="6.8" stroke-linejoin="round"/>
<rect x="2248.6" y="1076.5" width="70.8" height="35.8" fill="#000"/>
<text transform="translate(2327 1061.5) scale(1 1.01)" font-size="33.5" font-weight="bold" text-anchor="start">Con (n=6)</text>
<text transform="translate(2327.5 1104.2) scale(1 1.01)" font-size="33.5" font-weight="bold" text-anchor="start">2VO (n=6)</text>
</g>
</svg>
</body>
</html>
